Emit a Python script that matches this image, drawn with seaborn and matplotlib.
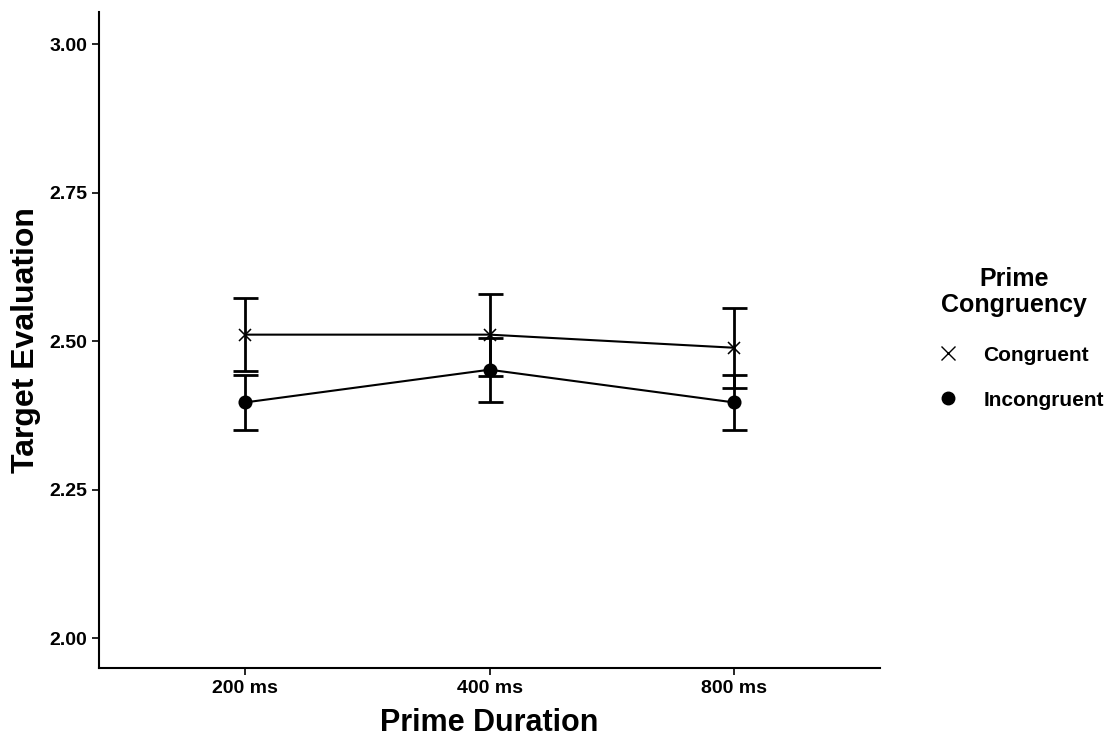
import matplotlib
matplotlib.use("Agg")
import matplotlib.pyplot as plt
from matplotlib.lines import Line2D
import numpy as np
import pandas as pd
import seaborn as sns

# Mean target evaluation (with standard errors) by prime duration and congruency
durations = ["200 ms", "400 ms", "800 ms"]
congruent_mean = [2.511, 2.511, 2.489]
congruent_se = [0.062, 0.069, 0.067]
incongruent_mean = [2.397, 2.452, 2.397]
incongruent_se = [0.046, 0.054, 0.046]
groups = ["Congruent", "Incongruent"]
y_ticks = [2.00, 2.25, 2.50, 2.75, 3.00]

df = pd.DataFrame({
    "duration": durations * 2,
    "congruency": [groups[0]] * 3 + [groups[1]] * 3,
    "mean": congruent_mean + incongruent_mean,
    "se": congruent_se + incongruent_se,
})

sns.set_theme(style="white")
plt.rcParams["font.family"] = ["Liberation Sans", "DejaVu Sans"]
plt.rcParams["text.color"] = "black"
plt.rcParams["axes.labelcolor"] = "black"

fig = plt.figure(figsize=(11.06, 7.4), dpi=100)
ax = fig.add_axes([0.0895, 0.0973, 0.7062, 0.8865])

sns.pointplot(
    data=df, x="duration", y="mean", hue="congruency",
    order=durations, hue_order=groups,
    palette=["black", "black"], markers=["x", "o"], linestyles=["-", "-"],
    errorbar=None, dodge=False, markersize=9, linewidth=1.5,
    ax=ax, legend=False,
)

# Standard-error bars drawn from the same table
for g in groups:
    sub = df[df["congruency"] == g].set_index("duration").loc[durations]
    ax.errorbar(
        np.arange(len(durations)), sub["mean"], yerr=sub["se"],
        fmt="none", ecolor="black", elinewidth=2.0, capsize=9, capthick=2.0,
        zorder=1,
    )

ax.set_xlim(-0.6, 2.6)
ax.set_ylim(1.95, 3.054)
ax.set_yticks(y_ticks)
ax.set_yticklabels([f"{t:.2f}" for t in y_ticks])

for side in ["top", "right"]:
    ax.spines[side].set_visible(False)
for side in ["left", "bottom"]:
    ax.spines[side].set_color("black")
    ax.spines[side].set_linewidth(1.5)

ax.tick_params(axis="both", which="both", length=5, width=1.2, color="black",
               labelsize=14, labelcolor="black", direction="out",
               bottom=True, left=True)
for lbl in ax.get_xticklabels() + ax.get_yticklabels():
    lbl.set_fontweight("bold")

ax.set_xlabel("Prime Duration", fontsize=22, fontweight="bold", labelpad=8)
ax.set_ylabel("Target Evaluation", fontsize=23, fontweight="bold", labelpad=6)

# Legend: centred two-line title above marker-only entries
fig.text(0.9165, 0.606, "Prime\nCongruency", ha="center", va="center",
         fontsize=18, fontweight="bold", linespacing=1.1, multialignment="center")

handles = [
    Line2D([], [], color="black", marker="x", linestyle="none", markersize=10,
           markeredgewidth=1.0),
    Line2D([], [], color="black", marker="o", linestyle="none", markersize=9),
]
leg = fig.legend(
    handles, groups,
    loc="upper left", bbox_to_anchor=(0.8477, 0.533),
    frameon=False, borderpad=0, borderaxespad=0,
    handlelength=1.0, handletextpad=1.2, labelspacing=1.25,
    prop={"weight": "bold", "size": 15},
)

fig.savefig("out.png", dpi=100, facecolor="white")
